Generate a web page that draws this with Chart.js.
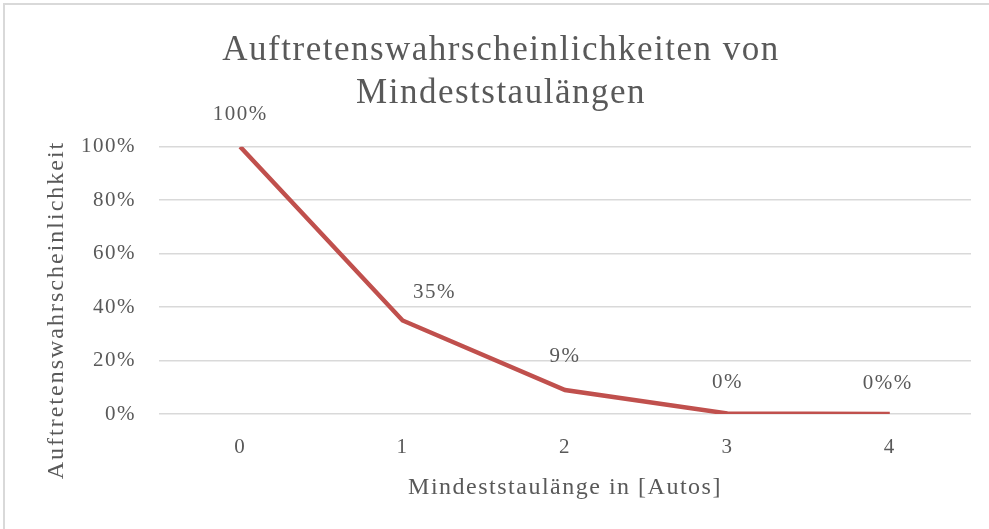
<!DOCTYPE html>
<html><head><meta charset="utf-8">
<script src="https://cdn.jsdelivr.net/npm/chart.js@4"></script>
<style>
html,body{margin:0;padding:0;background:#fff;}
#frame{position:absolute;left:3px;top:3px;width:986px;height:526px;border-left:2px solid #D9D9D9;border-top:2px solid #D9D9D9;box-sizing:border-box;}
#c{position:absolute;left:0;top:0;width:989px;height:529px;}
</style></head>
<body>
<div id="frame"></div>
<canvas id="c" width="989" height="529"></canvas>
<script>
const categories = ['0', '1', '2', '3', '4'];
const probabilities = [1.00, 0.35, 0.09, 0.002, 0.0];
const dataLabels = ['100%', '35%', '9%', '0%', '0%%'];
const labelShiftX = [0, 32, 0, 0, -2];
const labelShiftY = [-32, -28, -33, -31, -31];
const chartTitle = ['Auftretenswahrscheinlichkeiten von', 'Mindeststaulängen'];
const xTitle = 'Mindeststaulänge in [Autos]';
const yTitle = 'Auftretenswahrscheinlichkeit';

const FONT = "'Liberation Serif', 'Times New Roman', serif";
const TXT = '#595959';
const SPACING = '1.5px';

const spacingPlugin = {
  id: 'spacing',
  beforeDraw(chart) { chart.ctx.letterSpacing = SPACING; }
};

const labelPlugin = {
  id: 'pointLabels',
  afterDatasetsDraw(chart) {
    const ctx = chart.ctx;
    const meta = chart.getDatasetMeta(0);
    ctx.save();
    ctx.letterSpacing = SPACING;
    ctx.font = '21px ' + FONT;
    ctx.fillStyle = TXT;
    ctx.textAlign = 'center';
    ctx.textBaseline = 'middle';
    meta.data.forEach((pt, i) => {
      ctx.fillText(dataLabels[i], pt.x + labelShiftX[i], pt.y + labelShiftY[i]);
    });
    ctx.restore();
  }
};

const yTitlePlugin = {
  id: 'yTitle',
  afterDraw(chart) {
    const ctx = chart.ctx;
    ctx.save();
    ctx.letterSpacing = '2px';
    ctx.font = '24px ' + FONT;
    ctx.fillStyle = TXT;
    ctx.textAlign = 'center';
    ctx.textBaseline = 'middle';
    ctx.translate(57, 310);
    ctx.rotate(-Math.PI / 2);
    ctx.fillText(yTitle, 0, 0);
    ctx.restore();
  }
};

new Chart(document.getElementById('c'), {
  type: 'line',
  data: {
    labels: categories,
    datasets: [{
      data: probabilities,
      borderColor: '#C0504D',
      backgroundColor: '#C0504D',
      borderWidth: 4.5,
      pointRadius: 0,
      tension: 0,
      fill: false
    }]
  },
  options: {
    responsive: false,
    animation: false,
    devicePixelRatio: 1,
    layout: { padding: { left: 31, right: 18, top: 0, bottom: 0 } },
    plugins: {
      legend: { display: false },
      tooltip: { enabled: false },
      title: {
        display: true,
        text: chartTitle,
        color: TXT,
        font: { family: FONT, size: 35, weight: 'normal', lineHeight: 1.24 },
        padding: { top: 29, bottom: 31 }
      }
    },
    scales: {
      x: {
        offset: true,
        grid: { display: false, drawTicks: false },
        border: { display: false },
        ticks: { color: TXT, font: { family: FONT, size: 21 }, padding: 21, maxRotation: 0 },
        title: { display: true, text: xTitle, color: TXT, font: { family: FONT, size: 24 }, padding: { top: 0, bottom: 27 } },
        afterFit(s) { s.height = 115; }
      },
      y: {
        min: 0, max: 1,
        grid: { color: '#D9D9D9', lineWidth: 1.5, drawTicks: false },
        border: { display: false },
        ticks: {
          stepSize: 0.2, color: TXT, font: { family: FONT, size: 21 }, padding: 23,
          callback: v => Math.round(v * 100) + '%'
        },
        afterFit(s) { s.width = 128; }
      }
    }
  },
  plugins: [spacingPlugin, labelPlugin, yTitlePlugin]
});
</script>
</body></html>
